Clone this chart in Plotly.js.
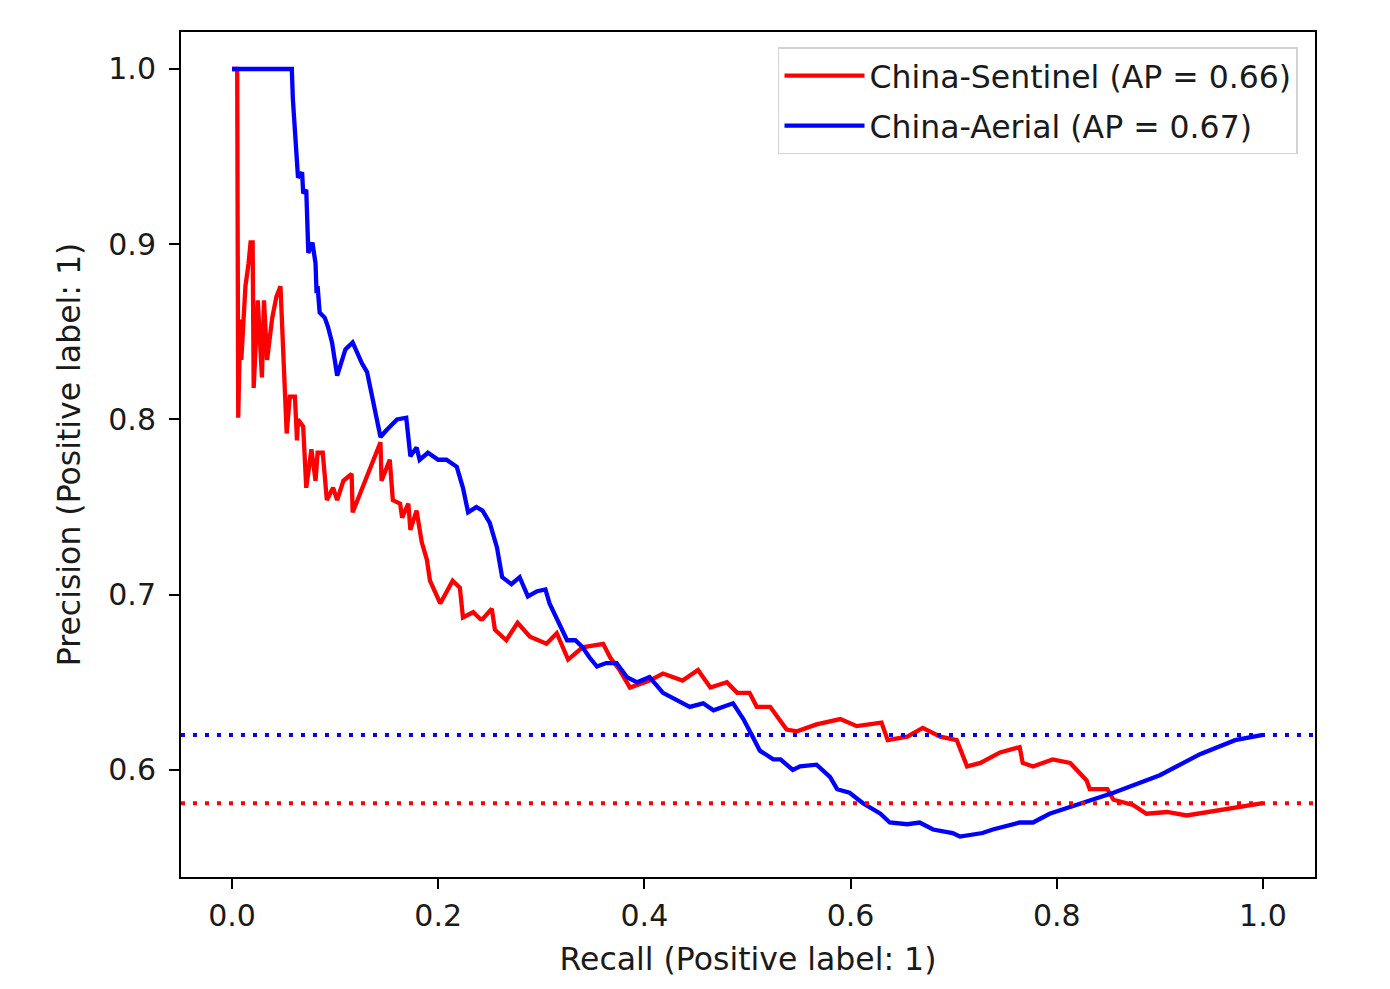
<!DOCTYPE html>
<html>
<head>
<meta charset="utf-8">
<script src="https://cdn.plot.ly/plotly-3.0.1.min.js"></script>
<style>
  html, body { margin: 0; padding: 0; background: #ffffff; }
  #chart { width: 1390px; height: 989px; }
</style>
</head>
<body>
<div id="chart"></div>
<script>
// ---- Data ----
const seriesNames = ["China-Sentinel (AP = 0.66)", "China-Aerial (AP = 0.67)"];

const sentinelRecall = [
  0.000, 0.005, 0.006, 0.008, 0.009, 0.013, 0.016, 0.018, 0.020, 0.021,
  0.025, 0.029, 0.031, 0.034, 0.039, 0.043, 0.047, 0.049, 0.051, 0.053,
  0.056, 0.061, 0.063, 0.064, 0.069, 0.072, 0.077, 0.081, 0.083, 0.088,
  0.092, 0.098, 0.102, 0.108, 0.116, 0.117, 0.144, 0.145, 0.153, 0.156,
  0.163, 0.165, 0.171, 0.173, 0.179, 0.184, 0.189, 0.192, 0.202, 0.214,
  0.221, 0.224, 0.234, 0.241, 0.243, 0.252, 0.255, 0.266, 0.277, 0.289,
  0.305, 0.315, 0.326, 0.340, 0.360, 0.367, 0.376, 0.386, 0.405, 0.418,
  0.437, 0.452, 0.464, 0.480, 0.490, 0.502, 0.509, 0.522, 0.538, 0.548,
  0.567, 0.590, 0.606, 0.630, 0.636, 0.655, 0.670, 0.687, 0.703, 0.713,
  0.726, 0.745, 0.764, 0.767, 0.777, 0.796, 0.813, 0.822, 0.829, 0.832,
  0.849, 0.855, 0.874, 0.887, 0.907, 0.926, 0.946, 0.971, 0.997, 1.000
];
const sentinelPrecision = [
  1.000, 1.000, 0.801, 0.857, 0.834, 0.876, 0.889, 0.901, 0.901, 0.818,
  0.868, 0.824, 0.868, 0.834, 0.858, 0.870, 0.876, 0.847, 0.815, 0.792,
  0.813, 0.813, 0.788, 0.800, 0.796, 0.761, 0.783, 0.765, 0.781, 0.781,
  0.754, 0.761, 0.754, 0.765, 0.769, 0.747, 0.787, 0.765, 0.777, 0.754,
  0.752, 0.744, 0.752, 0.737, 0.748, 0.730, 0.720, 0.708, 0.695, 0.708,
  0.704, 0.687, 0.690, 0.686, 0.686, 0.692, 0.680, 0.674, 0.684, 0.676,
  0.672, 0.678, 0.663, 0.670, 0.672, 0.664, 0.657, 0.647, 0.651, 0.655,
  0.651, 0.657, 0.647, 0.650, 0.644, 0.644, 0.636, 0.636, 0.623, 0.622,
  0.626, 0.629, 0.625, 0.627, 0.617, 0.619, 0.624, 0.619, 0.617, 0.602,
  0.604, 0.610, 0.613, 0.604, 0.602, 0.606, 0.604, 0.598, 0.594, 0.589,
  0.589, 0.583, 0.580, 0.575, 0.576, 0.574, 0.576, 0.578, 0.581, 0.581
];

const aerialRecall = [
  0.000, 0.058, 0.059, 0.061, 0.063, 0.064, 0.068, 0.069, 0.072, 0.074,
  0.078, 0.081, 0.082, 0.083, 0.085, 0.090, 0.093, 0.097, 0.102, 0.110,
  0.117, 0.126, 0.131, 0.136, 0.140, 0.144, 0.150, 0.160, 0.169, 0.173,
  0.179, 0.182, 0.190, 0.200, 0.208, 0.218, 0.224, 0.229, 0.237, 0.243,
  0.250, 0.257, 0.262, 0.271, 0.279, 0.287, 0.296, 0.304, 0.308, 0.318,
  0.325, 0.333, 0.340, 0.347, 0.354, 0.363, 0.373, 0.383, 0.393, 0.405,
  0.418, 0.431, 0.444, 0.457, 0.467, 0.486, 0.496, 0.505, 0.512, 0.525,
  0.532, 0.544, 0.551, 0.567, 0.580, 0.587, 0.599, 0.612, 0.629, 0.638,
  0.655, 0.667, 0.680, 0.699, 0.706, 0.728, 0.738, 0.764, 0.777, 0.793,
  0.855, 0.900, 0.939, 0.973, 0.997, 1.000
];
const aerialPrecision = [
  1.000, 1.000, 0.983, 0.966, 0.951, 0.938, 0.941, 0.929, 0.931, 0.895,
  0.901, 0.889, 0.872, 0.876, 0.861, 0.858, 0.853, 0.844, 0.825, 0.840,
  0.844, 0.832, 0.827, 0.813, 0.801, 0.790, 0.794, 0.800, 0.801, 0.779,
  0.784, 0.777, 0.781, 0.777, 0.777, 0.773, 0.761, 0.747, 0.750, 0.748,
  0.741, 0.727, 0.710, 0.706, 0.710, 0.699, 0.702, 0.703, 0.695, 0.682,
  0.674, 0.674, 0.670, 0.664, 0.659, 0.661, 0.661, 0.653, 0.650, 0.653,
  0.644, 0.640, 0.636, 0.638, 0.634, 0.638, 0.629, 0.619, 0.611, 0.606,
  0.606, 0.600, 0.602, 0.603, 0.596, 0.589, 0.587, 0.581, 0.575, 0.570,
  0.569, 0.570, 0.566, 0.564, 0.562, 0.564, 0.566, 0.570, 0.570, 0.575,
  0.587, 0.597, 0.609, 0.617, 0.620, 0.620
];

// chance levels (prevalence) drawn as dotted horizontal lines
const chanceSentinel = 0.581;
const chanceAerial = 0.620;

const xTickVals = [0.0, 0.2, 0.4, 0.6, 0.8, 1.0];
const xTickText = ["0.0", "0.2", "0.4", "0.6", "0.8", "1.0"];
const yTickVals = [0.6, 0.7, 0.8, 0.9, 1.0];
const yTickText = ["0.6", "0.7", "0.8", "0.9", "1.0"];

const RED = "#ff0000";
const BLUE = "#0000ff";
const FONT = "DejaVu Sans";
const TEXT = "#1a1a1a";

const traces = [
  {
    x: sentinelRecall, y: sentinelPrecision, type: "scatter", mode: "lines",
    name: seriesNames[0], legendgroup: "s", line: { color: RED, width: 4.3 }
  },
  {
    x: aerialRecall, y: aerialPrecision, type: "scatter", mode: "lines",
    name: seriesNames[1], legendgroup: "a", line: { color: BLUE, width: 4.3 }
  }
];

const layout = {
  width: 1390, height: 989,
  paper_bgcolor: "#ffffff", plot_bgcolor: "#ffffff",
  margin: { l: 181, r: 75, t: 32, b: 112, pad: 0 },
  font: { family: FONT, size: 30, color: TEXT },
  showlegend: true,
  legend: {
    x: 0.985, y: 0.982, xanchor: "right", yanchor: "top",
    bgcolor: "rgba(255,255,255,0.8)", bordercolor: "#d3d3d3", borderwidth: 1.5,
    font: { family: FONT, size: 31.5, color: TEXT },
    itemwidth: 80, tracegroupgap: 6
  },
  xaxis: {
    range: [-0.0495, 1.0505], tickmode: "array", tickvals: xTickVals, ticktext: xTickText,
    showgrid: false, zeroline: false, showline: true, mirror: true,
    linecolor: "#000000", linewidth: 2, ticks: "outside", ticklen: 10, tickwidth: 2,
    tickcolor: "#000000", tickfont: { family: FONT, size: 30, color: TEXT },
    ticklabelstandoff: 1,
    title: { text: "Recall (Positive label: 1)", font: { family: FONT, size: 31.5, color: TEXT }, standoff: 16 }
  },
  yaxis: {
    range: [0.5389, 1.0211], tickmode: "array", tickvals: yTickVals, ticktext: yTickText,
    showgrid: false, zeroline: false, showline: true, mirror: true,
    linecolor: "#000000", linewidth: 2, ticks: "outside", ticklen: 10, tickwidth: 2,
    tickcolor: "#000000", tickfont: { family: FONT, size: 30, color: TEXT },
    ticklabelstandoff: 7,
    title: { text: "Precision (Positive label: 1)", font: { family: FONT, size: 31.5, color: TEXT }, standoff: 18 }
  },
  shapes: [
    { type: "line", xref: "paper", yref: "y", x0: 0, x1: 1, y0: chanceSentinel, y1: chanceSentinel,
      line: { color: RED, width: 4, dash: "4px,8px" } },
    { type: "line", xref: "paper", yref: "y", x0: 0, x1: 1, y0: chanceAerial, y1: chanceAerial,
      line: { color: BLUE, width: 4, dash: "4px,8px" } }
  ]
};

Plotly.newPlot("chart", traces, layout, { displayModeBar: false, responsive: false });
</script>
</body>
</html>
